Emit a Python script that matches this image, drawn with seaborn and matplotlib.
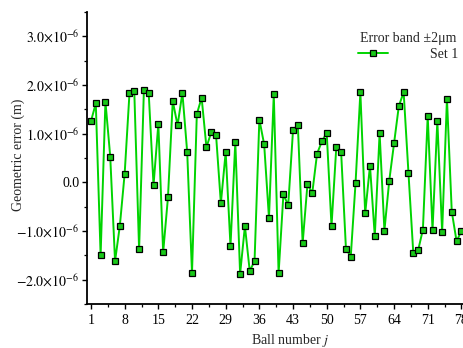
import numpy as np
import pandas as pd
import matplotlib
matplotlib.use("Agg")
import matplotlib.pyplot as plt
import matplotlib.ticker as mticker
import seaborn as sns

ball = list(range(1, 79))
error_um = [
    1.26, 1.62, -1.50, 1.66, 0.53, -1.62, -0.89, 0.18, 1.83, 1.87,
    -1.38, 1.90, 1.83, -0.06, 1.20, -1.44, -0.31, 1.67, 1.17, 1.84,
    0.62, -1.86, 1.40, 1.74, 0.72, 1.03, 0.97, -0.43, 0.62, -1.31,
    0.83, -1.88, -0.90, -1.82, -1.62, 1.29, 0.78, -0.73, 1.81, -1.87,
    -0.25, -0.47, 1.07, 1.18, -1.25, -0.04, -0.22, 0.59, 0.84, 1.02,
    -0.90, 0.73, 0.62, -1.36, -1.53, -0.01, 1.85, -0.64, 0.34, -1.11,
    1.01, -0.99, 0.03, 0.80, 1.57, 1.85, 0.19, -1.45, -1.40, -0.97,
    1.36, -0.98, 1.26, -1.02, 1.72, -0.60, -1.21, -1.00,
]
x_ticks = [1, 8, 15, 22, 29, 36, 43, 50, 57, 64, 71, 78]
y_ticks = [-2e-6, -1e-6, 0.0, 1e-6, 2e-6, 3e-6]
series_name = "Set 1"
legend_title = "Error band \u00b12\u03bcm"

df = pd.DataFrame({"Ball": ball, "Error": np.array(error_um) * 1e-6, "Series": series_name})

sns.set_style("ticks")
plt.rcParams["font.family"] = ["Liberation Serif", "DejaVu Serif"]
plt.rcParams["mathtext.fontset"] = "stix"
plt.rcParams["font.size"] = 10

fig = plt.figure(figsize=(4.63, 3.48), dpi=100)
ax = fig.add_axes([87 / 463, 44 / 348, 379 / 463, 292 / 348])

sns.lineplot(data=df, x="Ball", y="Error", hue="Series", palette=["#00d400"],
             marker="s", markersize=4.5, markerfacecolor="#19c819",
             markeredgecolor="black", markeredgewidth=0.9, linewidth=1.4, ax=ax)

ax.set_xlim(0.17, 78.96)
ax.set_ylim(-2.5e-6, 3.5e-6)
ax.set_xticks(x_ticks)
ax.set_xticklabels([str(t) for t in x_ticks])
ax.xaxis.set_minor_locator(mticker.MultipleLocator(3.5, offset=1))
ax.set_yticks(y_ticks)
ax.yaxis.set_minor_locator(mticker.MultipleLocator(0.5e-6))


def yfmt(v):
    if abs(v) < 1e-12:
        return "0.0"
    m = v / 1e-6
    s = "%.1f" % abs(m)
    sign = "\u2212" if m < 0 else ""
    return r"$%s%s{\times}10^{-6}$" % (sign, s)


ax.set_yticklabels([yfmt(v) for v in y_ticks])

for s in ["top", "right"]:
    ax.spines[s].set_visible(False)
for s in ["left", "bottom"]:
    ax.spines[s].set_linewidth(1.3)
    ax.spines[s].set_color("black")
ax.tick_params(axis="both", which="major", direction="out", length=3.5, width=1.0,
               colors="black", labelsize=10, pad=2)
ax.tick_params(axis="x", which="major", pad=4)
ax.tick_params(axis="both", which="minor", direction="out", length=2, width=0.9, colors="black")

ax.set_xlabel(r"Ball number $j$", fontsize=10)
ax.set_ylabel("Geometric error (m)", fontsize=10)
ax.xaxis.set_label_coords((290 - 87) / 379, -0.095)
ax.yaxis.set_label_coords(-0.163, 0.51)

leg = ax.legend(title=legend_title, frameon=False, loc="upper right",
                bbox_to_anchor=(468 / 463, 1 - 22 / 348), bbox_transform=fig.transFigure,
                handlelength=2.2, handletextpad=3.0, borderpad=0.2, fontsize=10,
                title_fontsize=10, labelspacing=0.2)

fig.savefig("out.png", dpi=100)
